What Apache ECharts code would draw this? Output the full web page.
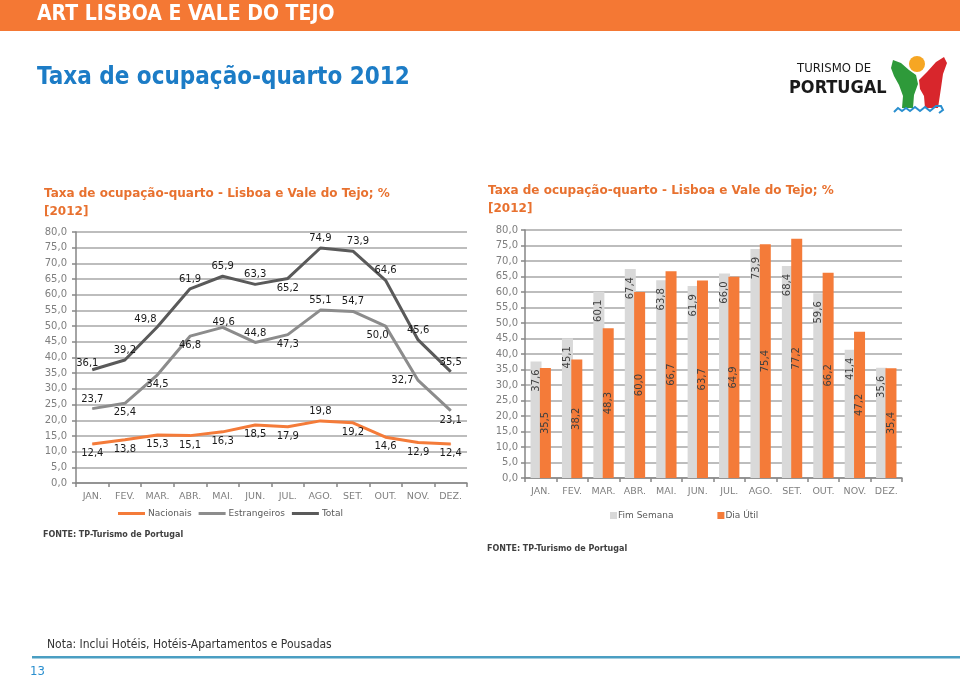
<!DOCTYPE html>
<html><head><meta charset="utf-8">
<script src="https://cdn.jsdelivr.net/npm/echarts@6/dist/echarts.min.js"></script>
<style>html,body{margin:0;padding:0;background:#fff}#c{width:960px;height:682px}</style>
</head><body><div id="c"></div>
<script>
const months = ['JAN.','FEV.','MAR.','ABR.','MAI.','JUN.','JUL.','AGO.','SET.','OUT.','NOV.','DEZ.'];
const nacionais = [12.4, 13.8, 15.3, 15.1, 16.3, 18.5, 17.9, 19.8, 19.2, 14.6, 12.9, 12.4];
const estrangeiros = [23.7, 25.4, 34.5, 46.8, 49.6, 44.8, 47.3, 55.1, 54.7, 50.0, 32.7, 23.1];
const total = [36.1, 39.2, 49.8, 61.9, 65.9, 63.3, 65.2, 74.9, 73.9, 64.6, 45.6, 35.5];
const fimSemana = [37.6, 45.1, 60.1, 67.4, 63.8, 61.9, 66.0, 73.9, 68.4, 59.6, 41.4, 35.6];
const diaUtil = [35.5, 38.2, 48.3, 60.0, 66.7, 63.7, 64.9, 75.4, 77.2, 66.2, 47.2, 35.4];

// label placement (layout only)
const totalPos = ['top','top','top','top','top','top','bottom','top','top','top','top','top'];
const estPos = ['top','bottom','bottom','bottom','top','top','bottom','top','top','bottom','left','bottom'];
const nacPos = ['bottom','bottom','bottom','bottom','bottom','bottom','bottom','top','bottom','bottom','bottom','bottom'];
const totalOff = {0:[-5,3], 2:[-12,2], 8:[5,0]};
const estOff = {4:[1,5], 9:[-8,0]};

const FONT = 'DejaVu Sans';
const fmt = v => Number(v).toFixed(1).replace('.', ',');

function lineData(vals, pos, off) {
  return vals.map((v, i) => ({
    value: v,
    label: { position: pos[i], offset: off[i] || [0, 0] }
  }));
}

const C_OR = '#F47B39', C_GR = '#8C8C8C', C_DK = '#5A5A5A';

const chart = echarts.init(document.getElementById('c'));

const axisCommonX = (gi) => ({
  type: 'category', gridIndex: gi, data: months, boundaryGap: true,
  axisLine: { lineStyle: { color: '#868686', width: 1.5 } },
  axisTick: { show: true, length: 4, alignWithLabel: false, lineStyle: { color: '#868686', width: 1.5 } },
  axisLabel: { interval: 0, color: '#7F7F7F', fontSize: 9.5, fontFamily: FONT, margin: 9 }
});
const axisCommonY = (gi, m) => ({
  type: 'value', gridIndex: gi, min: 0, max: 80, interval: 5,
  axisLine: { show: true, lineStyle: { color: '#868686', width: 1.5 } },
  axisTick: { show: true, length: 4, lineStyle: { color: '#868686', width: 1.5 } },
  axisLabel: { color: '#7F7F7F', fontSize: 10, fontFamily: FONT, margin: m, formatter: fmt },
  splitLine: { show: true, lineStyle: { color: '#BDBDBD', width: 2 } }
});

const lineLabel = { show: true, fontSize: 10, fontFamily: FONT, color: '#1A1A1A', distance: 4, formatter: p => fmt(p.value) };

function logoGraphic() {
  return [
    { type: 'text', left: 797, top: 62, style: { text: 'TURISMO DE', font: '13px "DejaVu Sans Condensed","DejaVu Sans"', fill: '#1A1A1A' } },
    { type: 'text', left: 789, top: 79, style: { text: 'PORTUGAL', font: 'bold 18px "DejaVu Sans Condensed","DejaVu Sans"', fill: '#1A1A1A' } },
    { type: 'polygon', shape: { points: [[893,60],[901,63],[909,70],[916,75],[918,84],[914,95],[913,108],[902,108],[903,96],[899,85],[894,76],[891,68]] }, style: { fill: '#2E9A3A' } },
    { type: 'polygon', shape: { points: [[919,80],[927,72],[936,62],[944,57],[947,63],[943,74],[941,88],[938,108],[925,108],[924,96],[920,89]] }, style: { fill: '#D8262C' } },
    { type: 'circle', shape: { cx: 917, cy: 64, r: 8 }, style: { fill: '#F6A623' } },
    { type: 'polyline', shape: { points: [[894,112],[898,108],[902,111],[906,108],[910,111],[915,107],[920,111],[925,107],[930,111],[936,106],[941,106],[943,110],[939,113]] }, style: { stroke: '#2A8FCF', lineWidth: 2, fill: null } }
  ];
}

const option = {
  animation: false,
  textStyle: { fontFamily: FONT },
  graphic: [
    { type: 'rect', shape: { x: 0, y: 0, width: 960, height: 31 }, style: { fill: '#F47834' } },
    { type: 'text', left: 37, top: 4, style: { text: 'ART LISBOA E VALE DO TEJO', font: 'bold 21px "DejaVu Sans Condensed","DejaVu Sans"', fill: '#FFFFFF' } },
    { type: 'text', left: 37, top: 66, style: { text: 'Taxa de ocupação-quarto 2012', font: 'bold 24px "DejaVu Sans Condensed","DejaVu Sans"', fill: '#1C7CC6' } },
    ...logoGraphic(),
    { type: 'text', left: 44, top: 185, style: { text: 'Taxa de ocupação-quarto - Lisboa e Vale do Tejo; %\n[2012]', font: 'bold 12px "DejaVu Sans"', fill: '#E8712F', lineHeight: 18 } },
    { type: 'text', left: 488, top: 182, style: { text: 'Taxa de ocupação-quarto - Lisboa e Vale do Tejo; %\n[2012]', font: 'bold 12px "DejaVu Sans"', fill: '#E8712F', lineHeight: 18 } },
    { type: 'text', left: 43, top: 531, style: { text: 'FONTE: TP-Turismo de Portugal', font: 'bold 8px "DejaVu Sans"', fill: '#404040' } },
    { type: 'text', left: 487, top: 545, style: { text: 'FONTE: TP-Turismo de Portugal', font: 'bold 8px "DejaVu Sans"', fill: '#404040' } },
    { type: 'text', left: 47, top: 639, style: { text: 'Nota: Inclui Hotéis, Hotéis-Apartamentos e Pousadas', font: '12px "DejaVu Sans Condensed","DejaVu Sans"', fill: '#333333' } },
    { type: 'rect', shape: { x: 32, y: 656, width: 928, height: 2.5 }, style: { fill: '#4A9EC2' } },
    { type: 'text', left: 30, top: 665, style: { text: '13', font: '13px "DejaVu Sans Condensed","DejaVu Sans"', fill: '#2A8FCF' } }
  ],
  legend: [
    { left: 118, top: 509, padding: 0, itemGap: 7, itemWidth: 27, itemHeight: 3, icon: 'rect',
      textStyle: { fontSize: 9, color: '#595959', fontFamily: FONT, padding: [0, 0, 0, -2] },
      data: ['Nacionais', 'Estrangeiros', 'Total'] },
    { left: 610, top: 511, padding: 0, itemGap: 44, itemWidth: 7, itemHeight: 7, icon: 'rect',
      textStyle: { fontSize: 9, color: '#595959', fontFamily: FONT, padding: [0, 0, 0, -4] },
      data: ['Fim Semana', 'Dia Útil'] }
  ],
  grid: [
    { left: 76, right: 493, top: 232, bottom: 199 },
    { left: 525, right: 58, top: 230, bottom: 204 }
  ],
  xAxis: [axisCommonX(0), axisCommonX(1)],
  yAxis: [axisCommonY(0, 9), axisCommonY(1, 7)],
  series: [
    { name: 'Nacionais', type: 'line', xAxisIndex: 0, yAxisIndex: 0, data: lineData(nacionais, nacPos, {}),
      symbol: 'circle', symbolSize: 1, lineStyle: { color: C_OR, width: 3 }, itemStyle: { color: C_OR }, label: lineLabel },
    { name: 'Estrangeiros', type: 'line', xAxisIndex: 0, yAxisIndex: 0, data: lineData(estrangeiros, estPos, estOff),
      symbol: 'circle', symbolSize: 1, lineStyle: { color: C_GR, width: 3 }, itemStyle: { color: C_GR }, label: lineLabel },
    { name: 'Total', type: 'line', xAxisIndex: 0, yAxisIndex: 0, data: lineData(total, totalPos, totalOff),
      symbol: 'circle', symbolSize: 1, lineStyle: { color: C_DK, width: 3 }, itemStyle: { color: C_DK }, label: lineLabel },
    { name: 'Fim Semana', type: 'bar', xAxisIndex: 1, yAxisIndex: 1, data: fimSemana, barWidth: 11, barGap: '-15%',
      itemStyle: { color: '#D9D9D9' },
      label: { show: true, position: 'insideTop', rotate: 90, align: 'right', verticalAlign: 'middle', distance: 8,
        fontSize: 10, fontFamily: FONT, color: '#404040', formatter: p => fmt(p.value) } },
    { name: 'Dia Útil', type: 'bar', xAxisIndex: 1, yAxisIndex: 1, data: diaUtil, barWidth: 11,
      itemStyle: { color: '#F47B39' },
      label: { show: true, position: 'inside', rotate: 90, align: 'center', verticalAlign: 'middle',
        fontSize: 10, fontFamily: FONT, color: '#404040', formatter: p => fmt(p.value) } }
  ]
};
chart.setOption(option);
</script></body></html>
